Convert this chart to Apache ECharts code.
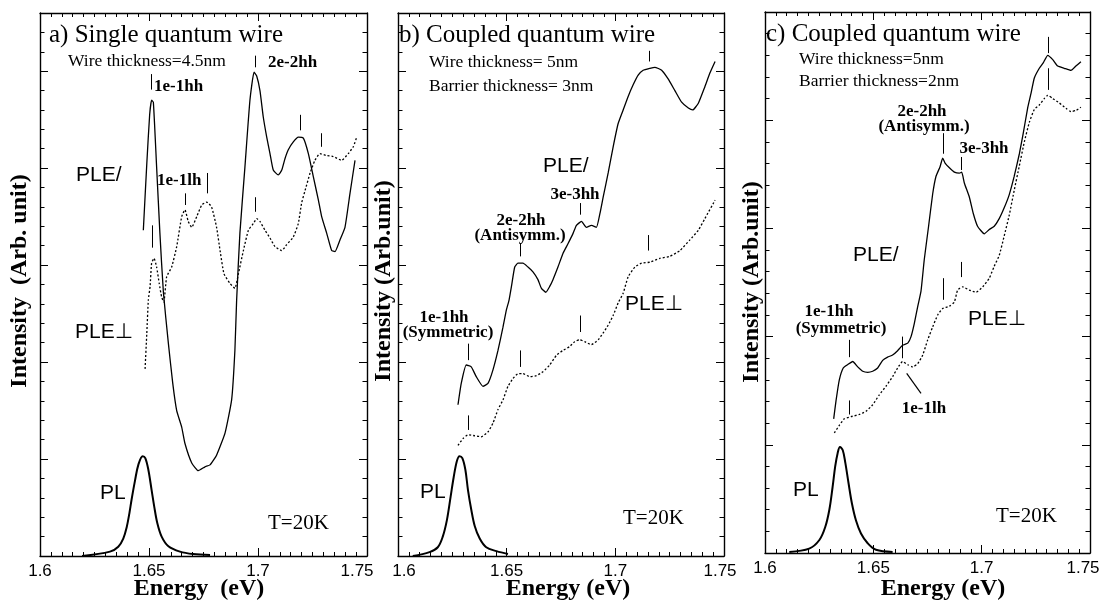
<!DOCTYPE html>
<html>
<head>
<meta charset="utf-8">
<title>PL and PLE spectra of quantum wires</title>
<script src="https://cdn.jsdelivr.net/npm/echarts@6/dist/echarts.min.js"></script>
<style>
html, body { margin: 0; padding: 0; background: #fff; }
#chart { width: 1106px; height: 610px; }
</style>
</head>
<body>
<div id="chart"></div>
<script>
// ---------- axis ticks ----------
const energyTicks = [1.6, 1.65, 1.7, 1.75];
const energyTickLabels = ['1.6', '1.65', '1.7', '1.75'];

// ---------- a) single quantum wire : [energy eV, intensity arb.] ----------
const plA = [[1.6193,0.0],[1.6321,0.045],[1.6359,0.096],[1.6382,0.18],[1.6398,0.30],[1.6410,0.44],[1.6420,0.58],[1.6436,0.78],[1.6451,0.94],[1.6471,1.03],[1.6483,1.01],[1.6497,0.89],[1.6512,0.68],[1.6524,0.51],[1.6538,0.34],[1.6558,0.20],[1.6589,0.10],[1.6642,0.045],[1.6702,0.02],[1.6780,0.01]];
const pleParA = [[1.6474,3.36],[1.6490,4.05],[1.6503,4.55],[1.6512,4.70],[1.6520,4.68],[1.6535,4.01],[1.6550,3.33],[1.6566,2.72],[1.6589,2.19],[1.6609,1.78],[1.6627,1.50],[1.6650,1.33],[1.6665,1.16],[1.6696,0.96],[1.6726,0.88],[1.6757,0.92],[1.6780,0.94],[1.6810,1.04],[1.6849,1.27],[1.6879,1.61],[1.6894,2.12],[1.6902,2.64],[1.6917,3.33],[1.6940,4.01],[1.6963,4.70],[1.6982,4.99],[1.6994,4.95],[1.7009,4.80],[1.7024,4.53],[1.7040,4.32],[1.7055,4.15],[1.7070,3.98],[1.7093,3.93],[1.7109,3.98],[1.7124,4.10],[1.7139,4.19],[1.7162,4.27],[1.7185,4.32],[1.7208,4.31],[1.7231,4.15],[1.7254,3.91],[1.7277,3.67],[1.7292,3.50],[1.7315,3.33],[1.7338,3.15],[1.7353,3.14],[1.7376,3.26],[1.7399,3.39],[1.7422,3.74],[1.7445,4.08]];
const plePerpA = [[1.6482,1.93],[1.6490,2.30],[1.6497,2.64],[1.6505,2.78],[1.6512,3.02],[1.6523,3.07],[1.6535,2.98],[1.6547,2.81],[1.6558,2.67],[1.6568,2.62],[1.6581,2.88],[1.6604,2.98],[1.6627,3.19],[1.6650,3.50],[1.6665,3.57],[1.6680,3.45],[1.6696,3.39],[1.6719,3.50],[1.6742,3.62],[1.6765,3.65],[1.6787,3.60],[1.6810,3.39],[1.6826,3.15],[1.6844,2.91],[1.6872,2.81],[1.6894,2.76],[1.6910,2.91],[1.6933,3.15],[1.6956,3.36],[1.6979,3.43],[1.6994,3.48],[1.7009,3.45],[1.7032,3.36],[1.7055,3.28],[1.7078,3.19],[1.7109,3.15],[1.7131,3.21],[1.7162,3.29],[1.7185,3.43],[1.7200,3.64],[1.7216,3.77],[1.7239,3.95],[1.7261,4.08],[1.7284,4.15],[1.7315,4.13],[1.7345,4.12],[1.7384,4.08],[1.7414,4.15],[1.7437,4.22],[1.7453,4.32]];
// transition markers: [energy, lower end, upper end]
const marksA = [[1.6512,4.81,4.97],[1.6986,5.04,5.16],[1.7193,4.39,4.55],[1.7292,4.22,4.36],[1.6665,3.62,3.74],[1.6769,3.74,3.95],[1.6986,3.55,3.70],[1.6517,3.18,3.41]];

// ---------- b) coupled quantum wire, 3 nm barrier ----------
const plB = [[1.6068,0.0],[1.6145,0.04],[1.6183,0.09],[1.6206,0.20],[1.6225,0.37],[1.6242,0.61],[1.6256,0.81],[1.6271,0.98],[1.6283,1.03],[1.6296,1.01],[1.6310,0.89],[1.6322,0.68],[1.6337,0.48],[1.6353,0.31],[1.6376,0.18],[1.6406,0.09],[1.6453,0.05],[1.6506,0.02]];
const pleParB = [[1.6276,1.56],[1.6291,1.78],[1.6314,1.97],[1.6337,1.95],[1.6360,1.85],[1.6391,1.75],[1.6414,1.78],[1.6437,1.92],[1.6460,2.12],[1.6483,2.36],[1.6499,2.54],[1.6511,2.64],[1.6522,2.78],[1.6537,2.98],[1.6552,3.02],[1.6575,3.02],[1.6598,2.98],[1.6621,2.93],[1.6644,2.85],[1.6660,2.76],[1.6680,2.72],[1.6698,2.78],[1.6713,2.85],[1.6736,2.98],[1.6759,3.12],[1.6782,3.22],[1.6806,3.33],[1.6821,3.41],[1.6844,3.45],[1.6867,3.39],[1.6890,3.41],[1.6913,3.39],[1.6929,3.53],[1.6944,3.70],[1.6967,3.95],[1.6990,4.22],[1.7013,4.46],[1.7036,4.60],[1.7059,4.74],[1.7082,4.86],[1.7105,4.96],[1.7128,5.01],[1.7159,5.03],[1.7182,5.04],[1.7213,5.01],[1.7243,4.92],[1.7274,4.80],[1.7305,4.68],[1.7336,4.62],[1.7356,4.60],[1.7382,4.67],[1.7412,4.84],[1.7435,4.98],[1.7459,5.10]];
const plePerpB = [[1.6276,1.14],[1.6299,1.21],[1.6322,1.25],[1.6353,1.24],[1.6383,1.23],[1.6414,1.28],[1.6437,1.37],[1.6460,1.51],[1.6483,1.61],[1.6506,1.75],[1.6529,1.83],[1.6552,1.88],[1.6575,1.88],[1.6606,1.85],[1.6637,1.86],[1.6667,1.90],[1.6698,1.97],[1.6729,2.07],[1.6759,2.12],[1.6790,2.16],[1.6813,2.21],[1.6836,2.23],[1.6859,2.21],[1.6890,2.18],[1.6921,2.23],[1.6944,2.30],[1.6967,2.38],[1.6990,2.48],[1.7013,2.61],[1.7036,2.71],[1.7059,2.88],[1.7090,2.98],[1.7121,3.02],[1.7159,3.03],[1.7205,3.07],[1.7251,3.09],[1.7297,3.15],[1.7343,3.26],[1.7382,3.36],[1.7412,3.48],[1.7459,3.67]];
const marksB = [[1.7156,5.10,5.21],[1.6840,3.52,3.64],[1.6563,3.09,3.22],[1.7151,3.15,3.31],[1.6840,2.31,2.48],[1.6563,1.95,2.12],[1.6325,2.02,2.19],[1.6325,1.30,1.45]];

// ---------- c) coupled quantum wire, 2 nm barrier ----------
const plC = [[1.6112,0.01],[1.6204,0.04],[1.6251,0.12],[1.6278,0.24],[1.6297,0.40],[1.6312,0.61],[1.6324,0.80],[1.6335,0.92],[1.6346,0.98],[1.6359,0.95],[1.6371,0.83],[1.6386,0.64],[1.6401,0.46],[1.6420,0.30],[1.6443,0.18],[1.6474,0.09],[1.6512,0.03],[1.6589,0.01]];
const pleParC = [[1.6317,1.24],[1.6328,1.41],[1.6343,1.60],[1.6361,1.71],[1.6381,1.74],[1.6405,1.77],[1.6428,1.72],[1.6451,1.68],[1.6474,1.67],[1.6497,1.68],[1.6520,1.71],[1.6543,1.78],[1.6566,1.81],[1.6589,1.83],[1.6612,1.87],[1.6635,1.92],[1.6659,1.94],[1.6674,2.00],[1.6689,2.12],[1.6705,2.28],[1.6720,2.42],[1.6735,2.71],[1.6755,3.02],[1.6774,3.32],[1.6789,3.48],[1.6808,3.57],[1.6820,3.65],[1.6832,3.60],[1.6851,3.56],[1.6874,3.52],[1.6897,3.51],[1.6908,3.52],[1.6920,3.42],[1.6943,3.29],[1.6961,3.14],[1.6981,3.02],[1.7012,2.95],[1.7035,2.99],[1.7058,3.02],[1.7081,3.09],[1.7104,3.19],[1.7127,3.31],[1.7150,3.48],[1.7174,3.69],[1.7192,3.88],[1.7212,4.11],[1.7228,4.25],[1.7243,4.39],[1.7266,4.48],[1.7284,4.53],[1.7305,4.60],[1.7328,4.56],[1.7351,4.50],[1.7381,4.48],[1.7412,4.46],[1.7435,4.50],[1.7458,4.54]];
const plePerpC = [[1.6320,1.11],[1.6343,1.18],[1.6366,1.24],[1.6397,1.26],[1.6435,1.28],[1.6466,1.31],[1.6497,1.37],[1.6527,1.46],[1.6558,1.54],[1.6589,1.63],[1.6612,1.71],[1.6635,1.77],[1.6659,1.74],[1.6682,1.72],[1.6705,1.75],[1.6728,1.83],[1.6751,1.97],[1.6774,2.09],[1.6797,2.20],[1.6820,2.26],[1.6851,2.28],[1.6874,2.32],[1.6889,2.43],[1.6912,2.46],[1.6943,2.43],[1.6974,2.41],[1.7005,2.46],[1.7035,2.54],[1.7058,2.65],[1.7081,2.75],[1.7104,2.93],[1.7127,3.12],[1.7150,3.35],[1.7174,3.58],[1.7197,3.80],[1.7220,3.98],[1.7243,4.10],[1.7266,4.14],[1.7289,4.20],[1.7305,4.23],[1.7328,4.20],[1.7358,4.16],[1.7389,4.11],[1.7412,4.08],[1.7435,4.09],[1.7458,4.12]];
const marksC = [[1.7305,4.62,4.77],[1.7305,4.28,4.48],[1.6823,3.69,3.88],[1.6905,3.54,3.66],[1.6905,2.55,2.69],[1.6823,2.34,2.54],[1.6389,1.81,1.97],[1.6389,1.28,1.41],[1.6635,1.80,2.00]];
// arrow pointing at the 1e-1lh shoulder: [tail, head]
const arrowC = [[1.6720,1.476],[1.6654,1.66]];

// ---------- layout ----------
// padL / padR nudge the end tick labels so neighbouring panels do not collide
const grids = [
  { left: 40,  right: 739, top: 13, bottom: 54, yMax: 5.6, padL: 0,  padR: 20 },
  { left: 398, right: 382, top: 13, bottom: 54, yMax: 5.6, padL: 12, padR: 8 },
  { left: 765, right: 16,  top: 12, bottom: 57, yMax: 5,   padL: 0,  padR: 14 }
];

const SERIF = '"Liberation Serif", "Times New Roman", serif';
const SANS = '"Liberation Sans", Arial, "DejaVu Sans", sans-serif';

function tickIndex(v) {
  for (let i = 0; i < energyTicks.length; i++) {
    if (Math.abs(v - energyTicks[i]) < 1e-6) return i;
  }
  return -1;
}

const frameLine = { show: true, onZero: false, lineStyle: { color: '#000', width: 1.4 } };
const tickFont = { fontFamily: SANS, fontSize: 17, color: '#000' };

const xAxes = [], yAxes = [];
grids.forEach((g, i) => {
  ['bottom', 'top'].forEach(pos => {
    xAxes.push({
      type: 'value', gridIndex: i, position: pos,
      min: 1.6, max: 1.75, interval: 0.05,
      axisLine: frameLine,
      axisTick: { show: true, inside: true, length: 8, lineStyle: { color: '#000', width: 1 } },
      minorTick: { show: true, splitNumber: 10, length: 4, lineStyle: { color: '#000', width: 1 } },
      splitLine: { show: false },
      axisLabel: Object.assign({
        show: pos === 'bottom', margin: 7,
        formatter: function (v) {
          const k = tickIndex(v);
          if (k < 0) return '';
          if (k === 0 && g.padL) return '{l|' + energyTickLabels[k] + '}';
          if (k === energyTicks.length - 1 && g.padR) return '{r|' + energyTickLabels[k] + '}';
          return energyTickLabels[k];
        },
        rich: {
          l: Object.assign({ padding: [0, 0, 0, g.padL] }, tickFont),
          r: Object.assign({ padding: [0, g.padR, 0, 0] }, tickFont)
        }
      }, tickFont)
    });
  });
  ['left', 'right'].forEach(pos => {
    yAxes.push({
      type: 'value', gridIndex: i, position: pos,
      min: 0, max: g.yMax, interval: 1,
      axisLine: frameLine,
      axisTick: { show: true, inside: true, length: 8, lineStyle: { color: '#000', width: 1 } },
      minorTick: { show: true, splitNumber: 5, length: 4.5, lineStyle: { color: '#000', width: 1 } },
      splitLine: { show: false },
      axisLabel: { show: false }
    });
  });
});

function markerLines(list) {
  return {
    silent: true, symbol: ['none', 'none'], animation: false,
    label: { show: false },
    lineStyle: { color: '#000', width: 1, type: 'solid' },
    emphasis: { disabled: true },
    data: list.map(m => [{ coord: [m[0], m[1]] }, { coord: [m[0], m[2]] }])
  };
}

function curve(data, i, kind, marks) {
  const s = {
    type: 'line', data: data, xAxisIndex: i * 2, yAxisIndex: i * 2,
    showSymbol: false, symbol: 'none', silent: true, animation: false,
    smooth: kind === 'pl' ? 0.35 : 0.15,
    lineStyle: {
      color: '#000',
      width: kind === 'pl' ? 2 : 1.3,
      type: kind === 'perp' ? [2, 2] : 'solid'
    },
    z: 3
  };
  if (marks) s.markLine = markerLines(marks);
  return s;
}

const series = [
  curve(plA, 0, 'pl'), curve(pleParA, 0, 'par', marksA), curve(plePerpA, 0, 'perp'),
  curve(plB, 1, 'pl'), curve(pleParB, 1, 'par', marksB), curve(plePerpB, 1, 'perp'),
  curve(plC, 2, 'pl'), curve(pleParC, 2, 'par', marksC), curve(plePerpC, 2, 'perp')
];
// arrow in panel c
series[8].markLine = {
  silent: true, animation: false, symbol: ['none', 'arrow'], symbolSize: [0, 9],
  label: { show: false }, emphasis: { disabled: true },
  lineStyle: { color: '#000', width: 1.2, type: 'solid' },
  data: [[{ coord: arrowC[0] }, { coord: arrowC[1] }]]
};

// ---------- text ----------
function txt(text, x, y, font, align, rot) {
  return {
    type: 'text', x: x, y: y, rotation: rot || 0, silent: true, z: 10,
    style: {
      text: text, font: font, fill: '#000',
      align: align || 'left', verticalAlign: 'middle',
      textAlign: align || 'left', textVerticalAlign: 'middle'
    }
  };
}
const fTitle = '25px ' + SERIF;
const fSub = '17.5px ' + SERIF;
const fBold = 'bold 17px ' + SERIF;
const fAxis = 'bold 24px ' + SERIF;
const fPle = '21px ' + SANS;
const fTemp = '21px ' + SERIF;

const texts = [
  // panel a
  txt('a) Single quantum wire', 49, 35.5, fTitle),
  txt('Wire thickness=4.5nm', 68, 61, fSub),
  txt('1e-1hh', 154, 87, fBold),
  txt('2e-2hh', 268, 63, fBold),
  txt('1e-1lh', 157, 181, fBold),
  txt('PLE/', 76, 175, fPle),
  txt('PLE\u22a5', 75, 332, fPle),
  txt('PL', 100, 493, fPle),
  txt('T=20K', 268, 523.5, fTemp),
  txt('Energy  (eV)', 199, 589, fAxis, 'center'),
  txt('Intensity  (Arb. unit)', 20, 281, fAxis, 'center', Math.PI / 2),
  // panel b
  txt('b) Coupled quantum wire', 399, 35.5, fTitle),
  txt('Wire thickness= 5nm', 429, 62, fSub),
  txt('Barrier thickness= 3nm', 429, 86, fSub),
  txt('3e-3hh', 575, 195, fBold, 'center'),
  txt('2e-2hh', 521, 221, fBold, 'center'),
  txt('(Antisymm.)', 520, 236, fBold, 'center'),
  txt('PLE/', 543, 166, fPle),
  txt('PLE\u22a5', 625, 304, fPle),
  txt('1e-1hh', 444, 318, fBold, 'center'),
  txt('(Symmetric)', 448, 333, fBold, 'center'),
  txt('PL', 420, 492, fPle),
  txt('T=20K', 623, 518, fTemp),
  txt('Energy (eV)', 568, 589, fAxis, 'center'),
  txt('Intensity (Arb.unit)', 383.5, 281, fAxis, 'center', Math.PI / 2),
  // panel c
  txt('c) Coupled quantum wire', 766, 34, fTitle),
  txt('Wire thickness=5nm', 799, 59, fSub),
  txt('Barrier thickness=2nm', 799, 81, fSub),
  txt('2e-2hh', 922, 112, fBold, 'center'),
  txt('(Antisymm.)', 924, 127, fBold, 'center'),
  txt('3e-3hh', 984, 149, fBold, 'center'),
  txt('PLE/', 853, 255, fPle),
  txt('PLE\u22a5', 968, 319, fPle),
  txt('1e-1hh', 829, 312, fBold, 'center'),
  txt('(Symmetric)', 841, 329, fBold, 'center'),
  txt('1e-1lh', 924, 409, fBold, 'center'),
  txt('PL', 793, 490, fPle),
  txt('T=20K', 996, 516, fTemp),
  txt('Energy (eV)', 943, 589, fAxis, 'center'),
  txt('Intensity (Arb.unit)', 752, 282, fAxis, 'center', Math.PI / 2)
];

const chart = echarts.init(document.getElementById('chart'), null, { renderer: 'canvas' });
chart.setOption({
  animation: false,
  backgroundColor: '#fff',
  grid: grids.map(g => ({ left: g.left, right: g.right, top: g.top, bottom: g.bottom, containLabel: false })),
  xAxis: xAxes,
  yAxis: yAxes,
  series: series,
  graphic: texts
});
</script>
</body>
</html>
